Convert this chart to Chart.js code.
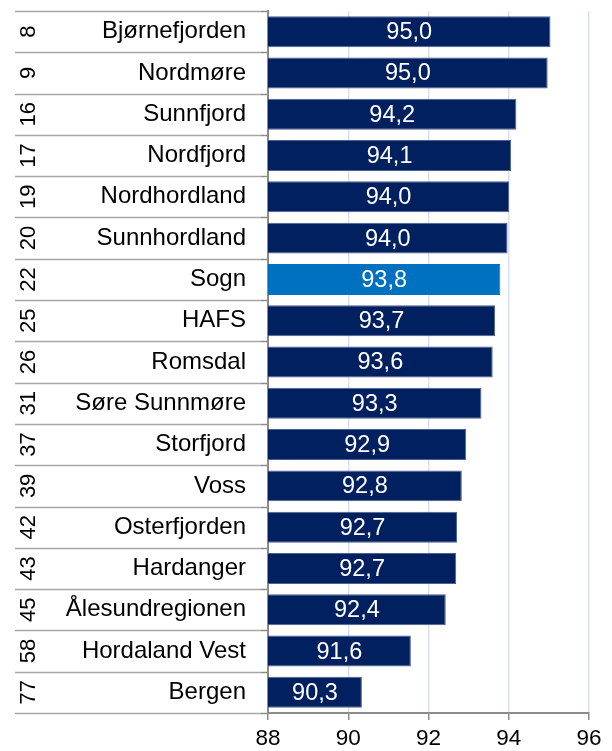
<!DOCTYPE html>
<html>
<head>
<meta charset="utf-8">
<title>Rangering</title>
<script src="https://cdn.jsdelivr.net/npm/chart.js@4/dist/chart.umd.min.js"></script>
<style>
  html, body { margin: 0; padding: 0; background: #fff; }
  #wrap { position: relative; width: 612px; height: 751px; }
</style>
</head>
<body>
<div id="wrap"><canvas id="chart_rangering"></canvas></div>
<script>
var regions = [
  'Bjørnefjorden', 'Nordmøre', 'Sunnfjord', 'Nordfjord', 'Nordhordland', 'Sunnhordland',
  'Sogn', 'HAFS', 'Romsdal', 'Søre Sunnmøre', 'Storfjord', 'Voss', 'Osterfjorden',
  'Hardanger', 'Ålesundregionen', 'Hordaland Vest', 'Bergen'
];
var ranks = [8, 9, 16, 17, 19, 20, 22, 25, 26, 31, 37, 39, 42, 43, 45, 58, 77];
var scores = [
  95.04, 94.97, 94.19, 94.06, 94.01, 93.97, 93.79, 93.66, 93.60, 93.32, 92.94, 92.83,
  92.71, 92.69, 92.43, 91.56, 90.34
];
var highlighted = 'Sogn';
var xTicks = [88, 90, 92, 94, 96];

var FONT = "'Liberation Sans', Arial, sans-serif";
var NAVY = '#002060';
var BLUE = '#0070C0';
var AXIS_GREY = '#8C8C8C';

function fmt(v) {
  return v.toFixed(1).replace('.', ',');
}

// table lines, rank column and value labels inside the bars
var tablePlugin = {
  id: 'tablePlugin',
  beforeDraw: function (chart) {
    var ctx = chart.ctx;
    var y = chart.scales.y;
    ctx.save();
    ctx.fillStyle = '#fff';
    ctx.fillRect(0, 0, chart.width, chart.height);
    var n = regions.length;
    var rowH = (y.bottom - y.top) / n;
    for (var i = 0; i <= n; i++) {
      var ly = Math.round(y.top + i * rowH) + 0.5;
      ctx.strokeStyle = '#A6A6A6';
      ctx.lineWidth = 1.5;
      ctx.beginPath();
      ctx.moveTo(15, ly);
      ctx.lineTo(y.right - 7, ly);
      ctx.stroke();
      ctx.strokeStyle = AXIS_GREY;
      ctx.beginPath();
      ctx.moveTo(y.right - 7, ly);
      ctx.lineTo(y.right, ly);
      ctx.stroke();
    }
    ctx.restore();
  },
  afterDatasetsDraw: function (chart) {
    var ctx = chart.ctx;
    var xs = chart.scales.x;
    var ys = chart.scales.y;
    var base = xs.getPixelForValue(xs.min);
    ctx.save();
    ctx.textAlign = 'center';
    ctx.textBaseline = 'middle';
    ctx.fillStyle = '#fff';
    ctx.font = '23.5px ' + FONT;
    scores.forEach(function (v, i) {
      var cy = ys.getPixelForValue(i);
      ctx.fillText(fmt(v), (xs.getPixelForValue(v) + base) / 2, cy + 1);
    });
    ctx.fillStyle = '#000';
    ctx.font = '22px ' + FONT;
    ranks.forEach(function (r, i) {
      ctx.save();
      ctx.translate(28.5, ys.getPixelForValue(i));
      ctx.rotate(-Math.PI / 2);
      ctx.fillText(String(r), 0, 0);
      ctx.restore();
    });
    ctx.restore();
  }
};

var chart_rangering = new Chart(document.getElementById('chart_rangering'), {
  type: 'bar',
  data: {
    labels: regions,
    datasets: [{
      data: scores,
      backgroundColor: regions.map(function (r) { return r === highlighted ? BLUE : NAVY; }),
      borderColor: regions.map(function (r) { return r === highlighted ? BLUE : '#4E6190'; }),
      borderWidth: 1,
      borderSkipped: false,
      categoryPercentage: 1,
      barPercentage: 0.75
    }]
  },
  options: {
    indexAxis: 'y',
    animation: false,
    responsive: true,
    maintainAspectRatio: false,
    layout: {
      padding: { top: 11, right: 23, bottom: 0, left: 0 }
    },
    plugins: {
      legend: { display: false },
      tooltip: { enabled: false }
    },
    scales: {
      x: {
        min: 88,
        max: 96,
        afterBuildTicks: function (scale) {
          scale.ticks = xTicks.map(function (v) { return { value: v }; });
        },
        afterFit: function (scale) { scale.height = 38; },
        grid: {
          color: '#D9E1F2',
          lineWidth: 1.5,
          tickColor: AXIS_GREY,
          tickLength: 7,
          drawTicks: true
        },
        border: { color: AXIS_GREY, width: 2 },
        ticks: {
          color: '#000',
          padding: 5,
          font: { family: FONT, size: 22.5 }
        }
      },
      y: {
        afterFit: function (scale) {
          scale.width = 268;
          scale.paddingTop = 0;
          scale.paddingBottom = 0;
        },
        grid: { display: false, drawTicks: false },
        border: { color: AXIS_GREY, width: 2 },
        ticks: {
          color: '#000',
          padding: 22,
          font: { family: FONT, size: 24 }
        }
      }
    }
  },
  plugins: [tablePlugin]
});
</script>
</body>
</html>
